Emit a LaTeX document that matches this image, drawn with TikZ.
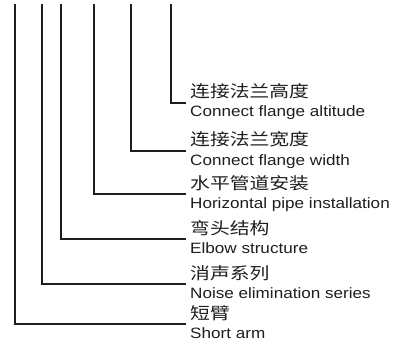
\documentclass[tikz,border=0pt]{standalone}
\usepackage{fontspec}
\setmainfont{Liberation Sans}[FakeStretch=1.14]
\newfontfamily\cjk{Noto Sans CJK SC}[FakeStretch=1.2]
\definecolor{ink}{HTML}{1E1E1E}
\begin{document}
\begin{tikzpicture}[x=1pt,y=-1pt,
  lead/.style={draw=ink,line width=1.2pt},
  zh/.style={anchor=base west,inner sep=0pt,text=ink,font=\cjk\fontsize{16.5}{18}\selectfont},
  en/.style={anchor=base west,inner sep=0pt,text=ink,font=\fontsize{15}{17}\selectfont}]
\useasboundingbox (0,0) rectangle (402,345);
% labels
\node[zh] (z6) at (190,98) {连接法兰高度};
\node[en] (e6) at (190,117) {Connect flange altitude};
\node[zh] (z5) at (190,146) {连接法兰宽度};
\node[en] (e5) at (190,165) {Connect flange width};
\node[zh] (z4) at (190,189) {水平管道安装};
\node[en] (e4) at (190,208) {Horizontal pipe installation};
\node[zh] (z3) at (190,234) {弯头结构};
\node[en] (e3) at (190,253) {Elbow structure};
\node[zh] (z2) at (190,279) {消声系列};
\node[en] (e2) at (190,298) {Noise elimination series};
\node[zh] (z1) at (190,319) {短臂};
\node[en] (e1) at (190,338) {Short arm};
% leader tops and ends
\coordinate (t6) at (171,4);  \coordinate (k6) at (186,103);
\coordinate (t5) at (131,4);  \coordinate (k5) at (186,151);
\coordinate (t4) at (94,4);   \coordinate (k4) at (186,194);
\coordinate (t3) at (61,4);   \coordinate (k3) at (186,239);
\coordinate (t2) at (42,4);   \coordinate (k2) at (186,284);
\coordinate (t1) at (15,4);   \coordinate (k1) at (186,324);
\foreach \i in {1,...,6} \draw[lead] (t\i) |- (k\i);
\end{tikzpicture}
\end{document}
